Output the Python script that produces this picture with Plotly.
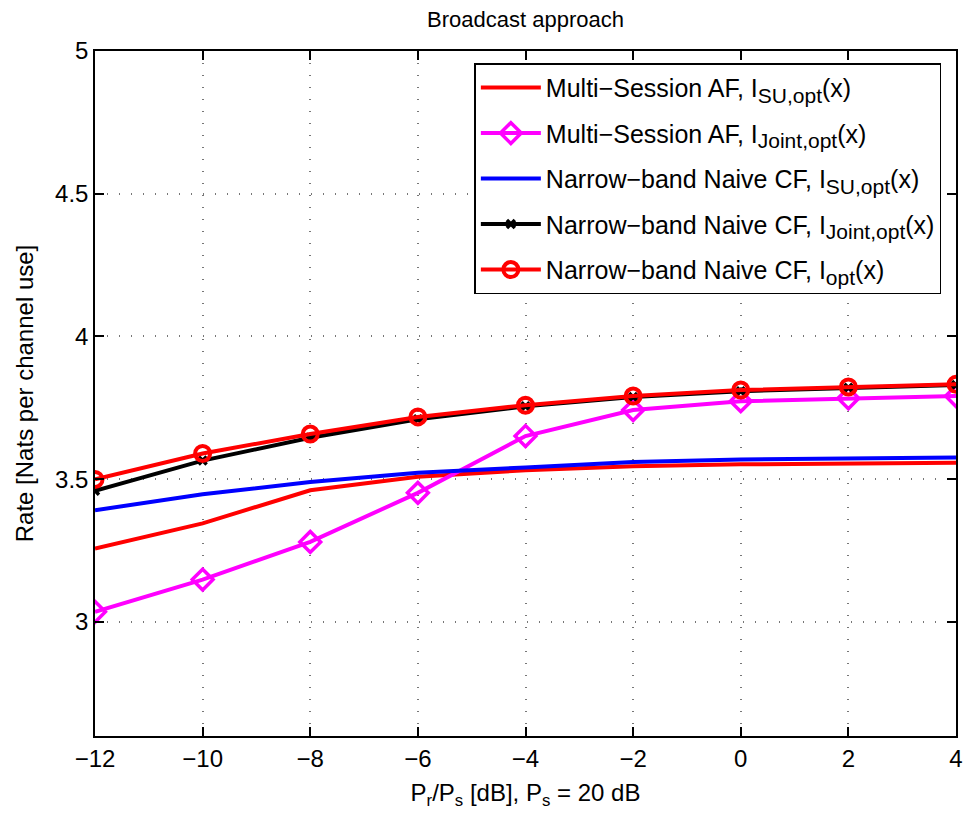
import plotly.graph_objects as go

x = [-12, -10, -8, -6, -4, -2, 0, 2, 4]

ms_af_su = [3.257, 3.345, 3.461, 3.508, 3.531, 3.545, 3.552, 3.555, 3.557]
ms_af_joint = [3.035, 3.148, 3.280, 3.452, 3.651, 3.742, 3.773, 3.783, 3.791]
nb_cf_su = [3.391, 3.447, 3.490, 3.522, 3.541, 3.560, 3.569, 3.573, 3.576]
nb_cf_joint = [3.459, 3.565, 3.645, 3.710, 3.755, 3.788, 3.808, 3.820, 3.830]
nb_cf_opt = [3.499, 3.590, 3.658, 3.718, 3.759, 3.791, 3.812, 3.823, 3.832]

SUB = '<sub><span style="font-size:21px">{}</span></sub>'
names = [
    "Multi−Session AF, I" + SUB.format("SU,opt") + "(x)",
    "Multi−Session AF, I" + SUB.format("Joint,opt") + "(x)",
    "Narrow−band Naive CF, I" + SUB.format("SU,opt") + "(x)",
    "Narrow−band Naive CF, I" + SUB.format("Joint,opt") + "(x)",
    "Narrow−band Naive CF, I" + SUB.format("opt") + "(x)",
]
y_ticks = [3, 3.5, 4, 4.5, 5]
y_tick_text = ["3", "3.5", "4", "4.5", "5"]

FONT = "Liberation Sans, Arial, Helvetica, sans-serif"

fig = go.Figure()
fig.add_trace(go.Scatter(x=x, y=ms_af_su, name=names[0], mode="lines",
                         line=dict(color="#ff0000", width=4), legendgroup="a"))
fig.add_trace(go.Scatter(x=x, y=ms_af_joint, name=names[1], mode="lines+markers",
                         line=dict(color="#ff00ff", width=4),
                         marker=dict(symbol="diamond-open", size=16, color="#ff00ff",
                                     line=dict(width=3.5, color="#ff00ff")), legendgroup="b"))
fig.add_trace(go.Scatter(x=x, y=nb_cf_su, name=names[2], mode="lines",
                         line=dict(color="#0000ff", width=4), legendgroup="c"))
fig.add_trace(go.Scatter(x=x, y=nb_cf_joint, name=names[3], mode="lines+markers",
                         line=dict(color="#000000", width=4),
                         marker=dict(symbol="x-thin-open", size=8, color="#000000",
                                     line=dict(width=3.5, color="#000000")), legendgroup="d"))
fig.add_trace(go.Scatter(x=x, y=nb_cf_opt, name=names[4], mode="lines+markers",
                         line=dict(color="#ff0000", width=4),
                         marker=dict(symbol="circle-open", size=15, color="#ff0000",
                                     line=dict(width=4, color="#ff0000")), legendgroup="e"))

fig.update_layout(
    width=975, height=819,
    margin=dict(l=95, r=12, t=51, b=83),
    paper_bgcolor="white", plot_bgcolor="white",
    font=dict(family=FONT, size=24, color="black"),
    title=dict(text="Broadcast approach", x=0.5, xref="paper", xanchor="center",
               y=1 - 19 / 819, yanchor="middle", font=dict(size=22)),
    legend=dict(x=0.983, xanchor="right", y=0.982, yanchor="top",
                bordercolor="black", borderwidth=1.5, bgcolor="white",
                font=dict(size=25), tracegroupgap=10, itemwidth=60),
    showlegend=True,
)
axis_common = dict(showline=True, linecolor="black", linewidth=1.5, mirror="ticks",
                   ticks="inside", ticklen=9, tickcolor="black", tickwidth=1.5,
                   showgrid=True, gridcolor="#777777", griddash="1px,11px", gridwidth=1.5,
                   zeroline=False, tickfont=dict(size=24))
fig.update_xaxes(range=[-12, 4], dtick=2, tick0=-12,
                 title=dict(text="P<sub>r</sub>/P<sub>s</sub> [dB], P<sub>s</sub> = 20 dB",
                            standoff=14, font=dict(size=24)),
                 **axis_common)
fig.update_yaxes(range=[2.6, 5], tickvals=y_ticks, ticktext=y_tick_text,
                 title=dict(text="Rate [Nats per channel use]", standoff=15, font=dict(size=24)),
                 **axis_common)

fig.write_html("out.html")
